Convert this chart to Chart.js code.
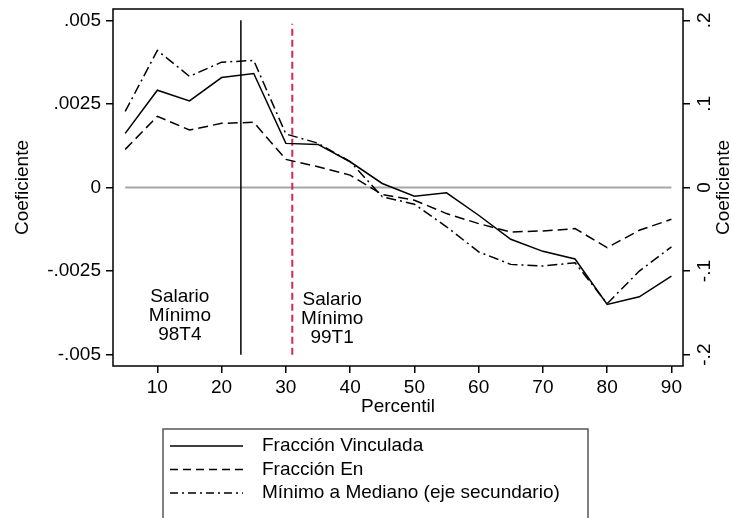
<!DOCTYPE html>
<html>
<head>
<meta charset="utf-8">
<script src="https://cdn.jsdelivr.net/npm/chart.js@4/dist/chart.umd.min.js"></script>
<style>
  html, body { margin: 0; padding: 0; background: #fff; }
  #wrap { width: 732px; height: 518px; }
</style>
</head>
<body>
<div id="wrap"><canvas id="myChart" width="732" height="518"></canvas></div>
<script>
// datos
var percentil = [5, 10, 15, 20, 25, 30, 35, 40, 45, 50, 55, 60, 65, 70, 75, 80, 85, 90];
var fraccionVinculada = [0.00162, 0.00291, 0.00259, 0.00329, 0.00341, 0.00132, 0.00129, 0.00077, 0.00012, -0.00026,
    -0.00016, -0.00083, -0.00155, -0.00191, -0.00214, -0.00350, -0.00327, -0.00265];
var fraccionEn = [0.00114, 0.00213, 0.00172, 0.00192, 0.00195, 0.00084, 0.00062, 0.00037, -0.00021, -0.00038,
    -0.00078, -0.00108, -0.00133, -0.00130, -0.00123, -0.00180, -0.00128, -0.00095];
var minimoMediano = [0.091, 0.164, 0.133, 0.150, 0.152, 0.064, 0.053, 0.031, -0.011, -0.020,
    -0.047, -0.077, -0.092, -0.094, -0.090, -0.139, -0.100, -0.071];

var xTicks = [10, 20, 30, 40, 50, 60, 70, 80, 90];
var yTicks = [-0.005, -0.0025, 0, 0.0025, 0.005];
var y2Ticks = [-0.2, -0.1, 0, 0.1, 0.2];
var y2Labels = ['-.2', '-.1', '0', '.1', '.2'];

var salarioMinimo = [23, 31];   // percentil de las lineas verticales
var notas = [
    { x: 13.5, y: -0.00328, lines: ['Salario', 'Mínimo', '98T4'] },
    { x: 37.2, y: -0.00337, lines: ['Salario', 'Mínimo', '99T1'] }
];
var leyenda = [
    { text: 'Fracción Vinculada', dash: [] },
    { text: 'Fracción En', dash: [8, 5] },
    { text: 'Mínimo a Mediano (eje secundario)', dash: [8, 4, 2, 4] }
];

var FONT = '"Liberation Sans", Arial, Helvetica, sans-serif';
var FS = 19;

function pts(ys) {
    return percentil.map(function (p, i) { return { x: p, y: ys[i] }; });
}
function fmt(v) {
    if (v === 0) return '0';
    return (v < 0 ? '-' : '') + String(Math.abs(v)).replace(/^0/, '');
}
function sinPadding(s) {
    s.paddingTop = 0; s.paddingBottom = 0; s.paddingLeft = 0; s.paddingRight = 0;
}

var extras = {
    id: 'extras',
    afterDraw: function (chart) {
        var ctx = chart.ctx;
        var a = chart.chartArea;
        var sx = chart.scales.x, sy = chart.scales.y, sy2 = chart.scales.y2;
        ctx.save();
        // marco del grafico
        ctx.strokeStyle = '#000';
        ctx.lineWidth = 1.5;
        ctx.setLineDash([]);
        ctx.strokeRect(a.left, a.top, a.right - a.left, a.bottom - a.top);

        ctx.fillStyle = '#000';
        ctx.font = FS + 'px ' + FONT;
        // notas
        ctx.textAlign = 'center';
        ctx.textBaseline = 'middle';
        notas.forEach(function (n) {
            var px = sx.getPixelForValue(n.x);
            var py = sy.getPixelForValue(n.y);
            n.lines.forEach(function (l, i) { ctx.fillText(l, px, py + i * 19); });
        });
        // titulo eje x
        ctx.fillText('Percentil', (a.left + a.right) / 2, 407);
        // etiquetas eje derecho (verticales)
        y2Ticks.forEach(function (v, i) {
            ctx.save();
            ctx.translate(705, sy2.getPixelForValue(v));
            ctx.rotate(-Math.PI / 2);
            ctx.fillText(y2Labels[i], 0, 0);
            ctx.restore();
        });
        // titulos verticales
        [23, 724].forEach(function (x) {
            ctx.save();
            ctx.translate(x, sy.getPixelForValue(0));
            ctx.rotate(-Math.PI / 2);
            ctx.fillText('Coeficiente', 0, 0);
            ctx.restore();
        });
        // leyenda
        ctx.strokeStyle = '#555';
        ctx.lineWidth = 1.5;
        ctx.strokeRect(163, 429, 425, 120);
        ctx.textAlign = 'left';
        leyenda.forEach(function (l, i) {
            var y = 446 + i * 23.5;
            ctx.strokeStyle = '#000';
            ctx.lineWidth = 1.5;
            ctx.setLineDash(l.dash);
            ctx.beginPath();
            ctx.moveTo(170, y);
            ctx.lineTo(243, y);
            ctx.stroke();
            ctx.setLineDash([]);
            ctx.fillText(l.text, 262, y);
        });
        ctx.restore();
    }
};

var ctx = document.getElementById('myChart').getContext('2d');
var myChart = new Chart(ctx, {
    type: 'line',
    data: {
        datasets: [{
            label: 'cero',
            data: [{ x: 5, y: 0 }, { x: 90, y: 0 }],
            borderColor: '#a6a6a6',
            borderWidth: 2,
            pointRadius: 0,
            order: 10
        }, {
            label: 'Salario Mínimo 98T4',
            data: [{ x: salarioMinimo[0], y: -0.005 }, { x: salarioMinimo[0], y: 0.005 }],
            borderColor: '#000',
            borderWidth: 1.5,
            pointRadius: 0,
            order: 5
        }, {
            label: 'Salario Mínimo 99T1',
            data: [{ x: salarioMinimo[1], y: -0.005 }, { x: salarioMinimo[1], y: 0.0049 }],
            borderColor: '#cf2a55',
            borderWidth: 2,
            borderDash: [7, 4],
            pointRadius: 0,
            order: 5
        }, {
            label: 'Fracción Vinculada',
            data: pts(fraccionVinculada),
            borderColor: '#000',
            borderWidth: 1.5,
            pointRadius: 0,
            tension: 0
        }, {
            label: 'Fracción En',
            data: pts(fraccionEn),
            borderColor: '#000',
            borderWidth: 1.5,
            borderDash: [10, 5],
            pointRadius: 0,
            tension: 0
        }, {
            label: 'Mínimo a Mediano (eje secundario)',
            data: pts(minimoMediano),
            yAxisID: 'y2',
            borderColor: '#000',
            borderWidth: 1.5,
            borderDash: [10, 4, 2, 4],
            pointRadius: 0,
            tension: 0
        }]
    },
    options: {
        responsive: false,
        animation: false,
        layout: { padding: { top: 9, left: 0, right: 0, bottom: 0 } },
        plugins: { legend: { display: false }, tooltip: { enabled: false } },
        scales: {
            x: {
                type: 'linear',
                min: 3.1,
                max: 91.8,
                afterBuildTicks: function (s) { s.ticks = xTicks.map(function (v) { return { value: v }; }); },
                afterFit: function (s) { s.height = 152; sinPadding(s); },
                border: { display: false },
                grid: { drawOnChartArea: false, tickLength: 7, color: '#000', lineWidth: 1.5 },
                ticks: { color: '#000', font: { family: FONT, size: FS }, padding: 3, maxRotation: 0 }
            },
            y: {
                position: 'left',
                min: -0.00534,
                max: 0.00534,
                afterBuildTicks: function (s) { s.ticks = yTicks.map(function (v) { return { value: v }; }); },
                afterFit: function (s) { s.width = 113; sinPadding(s); },
                border: { display: false },
                grid: { drawOnChartArea: false, tickLength: 7, color: '#000', lineWidth: 1.5 },
                ticks: { color: '#000', font: { family: FONT, size: FS }, padding: 5, callback: function (v) { return fmt(v); } }
            },
            y2: {
                position: 'right',
                min: -0.2136,
                max: 0.2136,
                afterBuildTicks: function (s) { s.ticks = y2Ticks.map(function (v) { return { value: v }; }); },
                afterFit: function (s) { s.width = 49; sinPadding(s); },
                border: { display: false },
                grid: { drawOnChartArea: false, tickLength: 7, color: '#000', lineWidth: 1.5 },
                ticks: { display: false }
            }
        }
    },
    plugins: [extras]
});
</script>
</body>
</html>
